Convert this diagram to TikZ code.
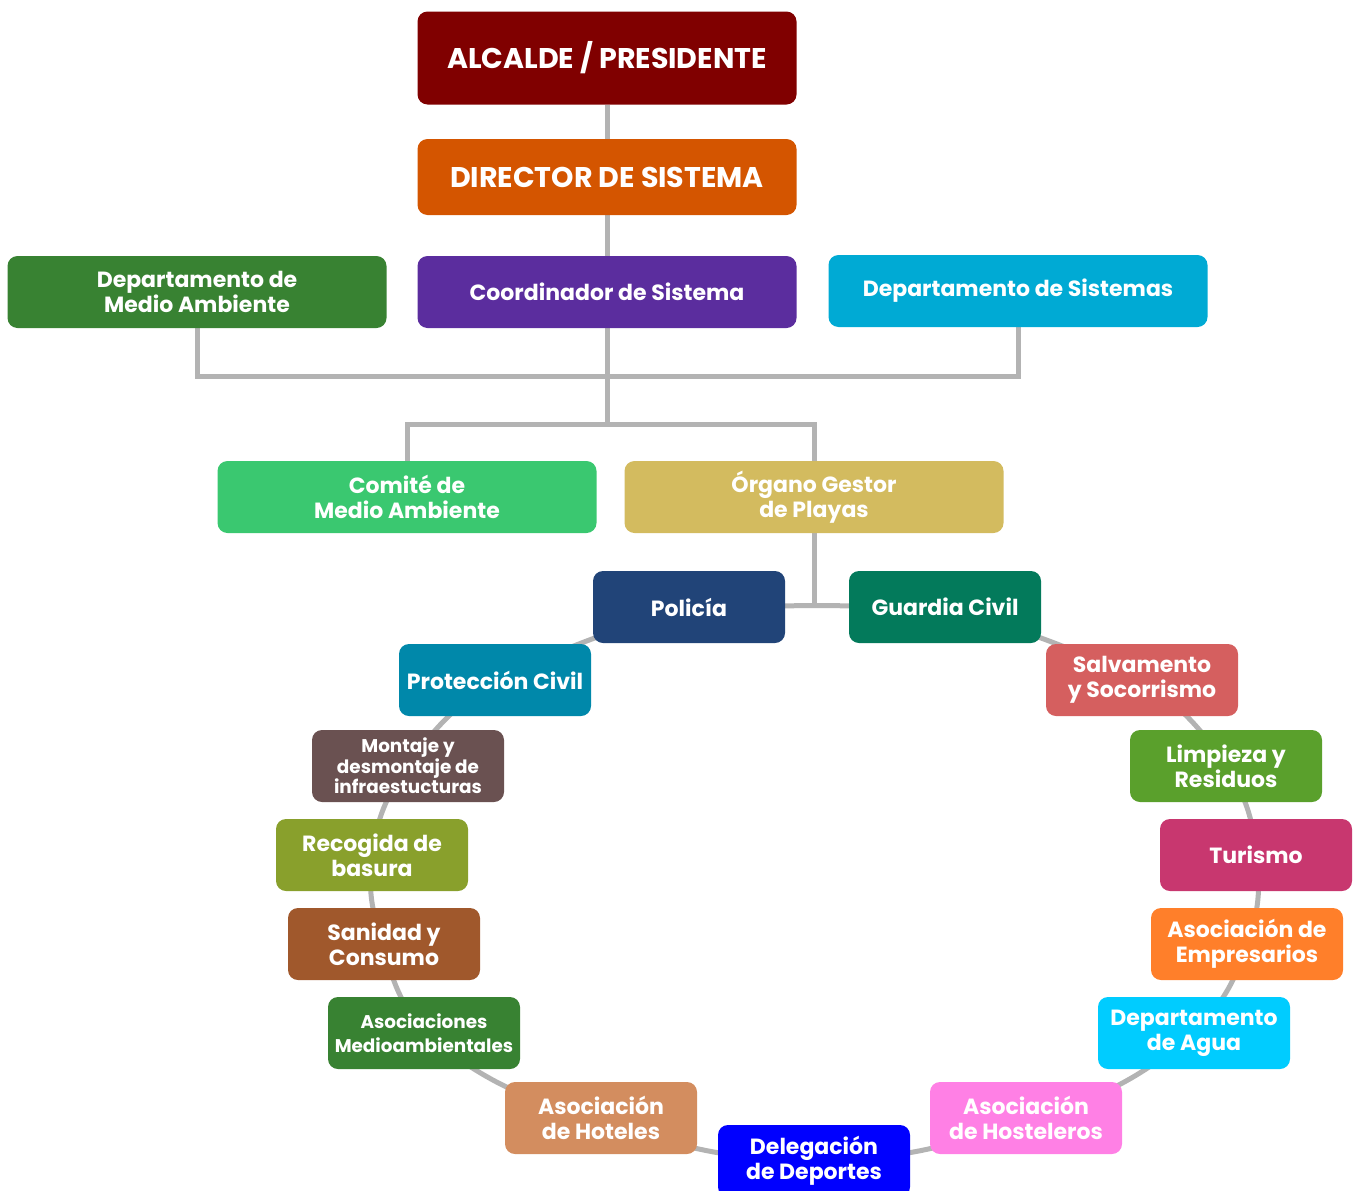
\documentclass[tikz,border=0pt]{standalone}
\usepackage{fontspec}
\setmainfont{Poppins}
\usetikzlibrary{positioning, backgrounds}
\definecolor{wiregray}{HTML}{B3B3B3}
\definecolor{cAlc}{HTML}{800000}
\definecolor{cDir}{HTML}{D45500}
\definecolor{cCoo}{HTML}{5B2D9E}
\definecolor{cVerde}{HTML}{388232}
\definecolor{cSis}{HTML}{00AAD4}
\definecolor{cCom}{HTML}{3AC870}
\definecolor{cOrg}{HTML}{D3BB5F}
\definecolor{cPol}{HTML}{214478}
\definecolor{cGua}{HTML}{037A5B}
\definecolor{cPro}{HTML}{0088AA}
\definecolor{cSal}{HTML}{D55F5F}
\definecolor{cMon}{HTML}{6A5151}
\definecolor{cLim}{HTML}{5AA02C}
\definecolor{cRec}{HTML}{89A02C}
\definecolor{cTur}{HTML}{C8376F}
\definecolor{cSan}{HTML}{A0582C}
\definecolor{cEmp}{HTML}{FF7F2A}
\definecolor{cAgu}{HTML}{00CCFF}
\definecolor{cHot}{HTML}{D38D5F}
\definecolor{cHos}{HTML}{FF80E5}
\definecolor{cDel}{HTML}{0000FF}
\tikzset{
	box/.style={rounded corners=10pt, text=white, align=center, inner sep=0pt,
		minimum width=192pt, minimum height=72pt,
		font=\bfseries\fontsize{22}{25}\selectfont}, % the small boxes round the ring
	wide/.style={box, minimum width=379pt}, % the boxes of the top part
	title/.style={wide, font=\bfseries\fontsize{28.5}{32}\selectfont}, % the two boxes in capitals
	small/.style={box, font=\bfseries\fontsize{18.4}{19.5}\selectfont},
	wire/.style={draw=wiregray, line width=5pt},
}

\begin{document}
\begin{tikzpicture}[x=1pt, y=-1pt]
	\useasboundingbox (0,0) rectangle (1360,1191);
	% top of the chart
	\node[title, fill=cAlc, minimum height=93pt] (alc) at (607,58) {ALCALDE / PRESIDENTE};
	\node[title, fill=cDir, minimum height=76pt] (dir) at (607,177) {DIRECTOR DE SISTEMA};
	\node[wide, fill=cCoo] (coo) at (607,292) {Coordinador de Sistema};
	\node[wide, fill=cVerde] (dma) at (197,292) {Departamento de\\Medio Ambiente};
	\node[wide, fill=cSis] (dsi) at (1018,291) {Departamento de Sistemas};
	\node[wide, fill=cCom] (com) at (407,497) {Comité de\\Medio Ambiente};
	\node[wide, fill=cOrg] (org) at (814,497) {Órgano Gestor\\de Playas};
	\coordinate (j1) at (607,376);
	\coordinate (j2) at (607,424);
	\coordinate (ring) at (814,607);
	% the ring
	\node[box, fill=cPol] (pol) at (689,607) {Policía};
	\node[box, fill=cGua] (gua) at (945,607) {Guardia Civil};
	\node[box, fill=cPro] (pro) at (495,680) {Protección Civil};
	\node[box, fill=cSal] (sal) at (1142,680) {Salvamento\\y Socorrismo};
	\node[small, fill=cMon] (mon) at (408,766) {Montaje y\\desmontaje de\\infraestucturas};
	\node[box, fill=cLim] (lim) at (1226,766) {Limpieza y\\Residuos};
	\node[box, fill=cRec] (rec) at (372,855) {Recogida de\\basura};
	\node[box, fill=cTur] (tur) at (1256,855) {Turismo};
	\node[box, fill=cSan] (san) at (384,944) {Sanidad y\\Consumo};
	\node[box, fill=cEmp] (emp) at (1247,944) {Asociación de\\Empresarios};
	\node[small, fill=cVerde, font=\bfseries\fontsize{18.4}{24}\selectfont] (ame) at (424,1033) {Asociaciones\\Medioambientales};
	\node[box, fill=cAgu] (agu) at (1194,1033) {Departamento\\de Agua};
	\node[box, fill=cHot] (hot) at (601,1118) {Asociación\\de Hoteles};
	\node[box, fill=cHos] (hos) at (1026,1118) {Asociación\\de Hosteleros};
	\node[box, fill=cDel] (del) at (814,1161) {Delegación\\de Deportes};
	\begin{scope}[on background layer]
		\draw[wire] (alc) -- (dir) -- (coo) -- (j2);
		\draw[wire] (dma.south) |- (j1) -| (dsi.south);
		\draw[wire] (com.north) |- (j2) -| (org.north);
		\draw[wire] (org) -- (ring);
		\draw[wire] (pol.center) to[bend left=1] (gua.center);
		\draw[wire] (pol.center) to[bend right=4] (pro.center) to[bend right=11] (mon.center)
			to[bend right=14] (rec.center) to[bend right=14] (san.center) to[bend right=13] (ame.center)
			to[bend right=13] (hot.center) to[bend right=10] (del.center) to[bend right=10] (hos.center)
			to[bend right=13] (agu.center) to[bend right=13] (emp.center) to[bend right=14] (tur.center)
			to[bend right=14] (lim.center) to[bend right=11] (sal.center) to[bend right=4] (gua.center);
	\end{scope}
\end{tikzpicture}
\end{document}
